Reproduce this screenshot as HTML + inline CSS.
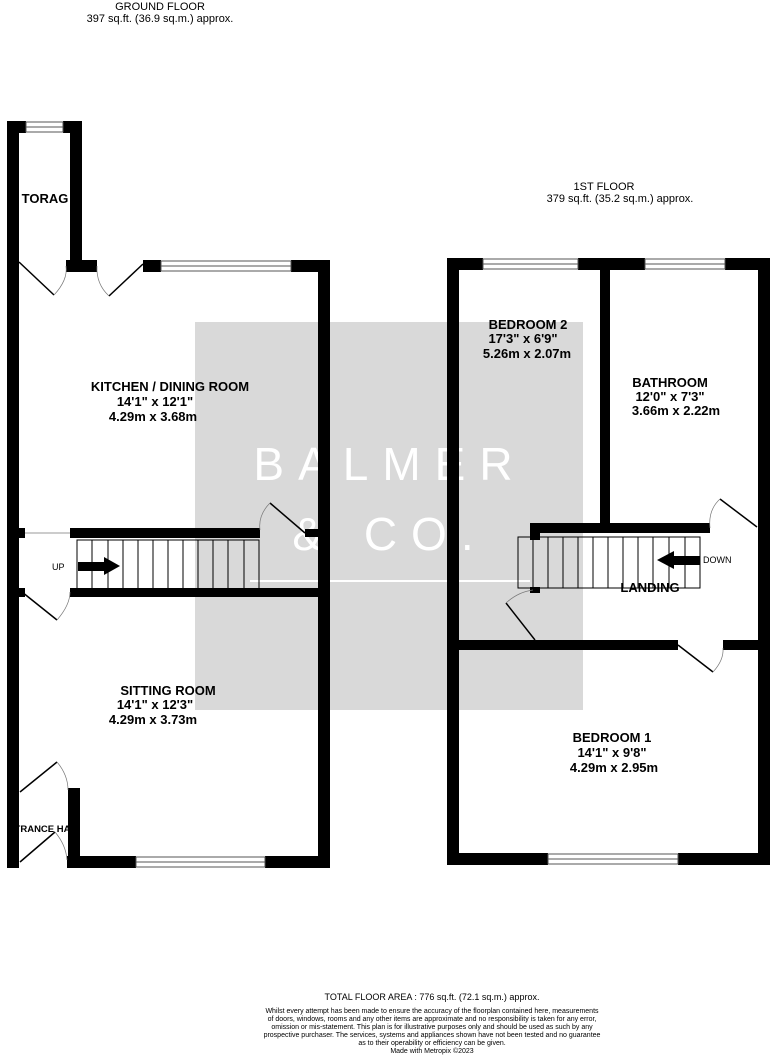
<!DOCTYPE html>
<html><head><meta charset="utf-8"><style>
body{margin:0;background:#fff;}
svg{display:block;font-family:"Liberation Sans",Arial,sans-serif;}
.b{font-weight:bold;font-size:13px;white-space:pre;}
</style></head><body>
<svg width="776" height="1056" viewBox="0 0 776 1056">
<rect width="776" height="1056" fill="#fff"/>
<rect x="195" y="322" width="388" height="388" fill="#d9d9d9"/>
<text x="390" y="480" fill="#fff" font-size="46" text-anchor="middle" letter-spacing="14">BALMER</text>
<text x="390" y="550" fill="#fff" font-size="46" text-anchor="middle" letter-spacing="14">&amp; CO.</text>
<rect x="250" y="580" width="280" height="2" fill="#fff"/>

<text x="160" y="10" font-size="11" text-anchor="middle">GROUND FLOOR</text>
<text x="160" y="22" font-size="11" text-anchor="middle">397 sq.ft. (36.9 sq.m.) approx.</text>
<text x="604" y="190" font-size="11" text-anchor="middle">1ST FLOOR</text>
<text x="620" y="202" font-size="11" text-anchor="middle">379 sq.ft. (35.2 sq.m.) approx.</text>

<g fill="#000">
<rect x="7" y="121" width="12" height="747"/>
<rect x="7" y="121" width="19" height="12"/>
<rect x="63" y="121" width="19" height="12"/>
<rect x="70" y="121" width="12" height="150"/>
<rect x="66" y="260" width="31" height="12"/>
<rect x="143" y="260" width="18" height="12"/>
<rect x="291" y="260" width="39" height="12"/>
<rect x="318" y="260" width="12" height="608"/>
<rect x="70" y="528" width="190" height="10"/>
<rect x="19" y="528" width="6" height="10"/>
<rect x="70" y="588" width="248" height="9"/>
<rect x="19" y="588" width="6" height="9"/>
<rect x="305" y="529" width="13" height="8"/>
<rect x="68" y="788" width="12" height="72"/>
<rect x="67" y="856" width="69" height="12"/>
<rect x="265" y="856" width="65" height="12"/>
<rect x="447" y="258" width="12" height="607"/>
<rect x="447" y="258" width="36" height="12"/>
<rect x="578" y="258" width="67" height="12"/>
<rect x="725" y="258" width="45" height="12"/>
<rect x="758" y="258" width="12" height="607"/>
<rect x="447" y="853" width="101" height="12"/>
<rect x="678" y="853" width="92" height="12"/>
<rect x="600" y="270" width="10" height="260"/>
<rect x="530" y="523" width="180" height="10"/>
<rect x="530" y="523" width="10" height="17"/>
<rect x="530" y="587" width="10" height="6"/>
<rect x="459" y="640" width="219" height="10"/>
<rect x="723" y="640" width="35" height="10"/>
</g>
<g fill="#fff" stroke="#555" stroke-width="1">
<rect x="26" y="122" width="37" height="10"/>
<rect x="161" y="261" width="130" height="10"/>
<rect x="136" y="857" width="129" height="10"/>
<rect x="483" y="259" width="95" height="10"/>
<rect x="645" y="259" width="80" height="10"/>
<rect x="548" y="854" width="130" height="10"/>
</g>
<g stroke="#555" stroke-width="1">
<line x1="26" y1="127" x2="63" y2="127"/><line x1="161" y1="266" x2="291" y2="266"/>
<line x1="136" y1="862" x2="265" y2="862"/><line x1="483" y1="264" x2="578" y2="264"/>
<line x1="645" y1="264" x2="725" y2="264"/><line x1="548" y1="859" x2="678" y2="859"/>
</g>
<g stroke="#000" stroke-width="1.5" fill="none">
<line x1="19" y1="262" x2="54" y2="295"/>
<line x1="143" y1="264" x2="109" y2="296"/>
<line x1="305" y1="533" x2="270" y2="503"/>
<line x1="22" y1="592" x2="57" y2="620"/>
<line x1="20" y1="792" x2="57" y2="762"/>
<line x1="20" y1="862" x2="55" y2="832"/>
<line x1="757" y1="527" x2="720" y2="499"/>
<line x1="535" y1="640" x2="506" y2="603"/>
<line x1="678" y1="645" x2="713" y2="672"/>
</g>
<g stroke="#777" stroke-width="0.7" fill="none">
<path d="M54 295 Q68 280 66 266"/>
<path d="M109 296 Q96 284 97 266"/>
<path d="M270 503 Q258 515 260 530"/>
<path d="M57 620 Q70 605 70 592"/>
<path d="M57 762 Q68 775 68 790"/>
<path d="M55 832 Q66 845 67 860"/>
<path d="M720 499 Q708 510 710 528"/>
<path d="M506 603 Q518 592 533 590"/>
<path d="M713 672 Q724 660 723 648"/>
<line x1="25" y1="533" x2="70" y2="533"/>
</g>
<g stroke="#000" stroke-width="1" fill="none">
<rect x="77" y="540" width="182" height="50"/>
<line x1="92" y1="540" x2="92" y2="590"/><line x1="108" y1="540" x2="108" y2="590"/>
<line x1="123" y1="540" x2="123" y2="590"/><line x1="138" y1="540" x2="138" y2="590"/>
<line x1="153" y1="540" x2="153" y2="590"/><line x1="168" y1="540" x2="168" y2="590"/>
<line x1="183" y1="540" x2="183" y2="590"/><line x1="198" y1="540" x2="198" y2="590"/>
<line x1="213" y1="540" x2="213" y2="590"/><line x1="228" y1="540" x2="228" y2="590"/>
<line x1="244" y1="540" x2="244" y2="590"/>
<rect x="518" y="537" width="182" height="51"/>
<line x1="533" y1="537" x2="533" y2="588"/><line x1="548" y1="537" x2="548" y2="588"/>
<line x1="563" y1="537" x2="563" y2="588"/><line x1="578" y1="537" x2="578" y2="588"/>
<line x1="593" y1="537" x2="593" y2="588"/><line x1="608" y1="537" x2="608" y2="588"/>
<line x1="623" y1="537" x2="623" y2="588"/><line x1="638" y1="537" x2="638" y2="588"/>
<line x1="653" y1="537" x2="653" y2="588"/><line x1="669" y1="537" x2="669" y2="588"/>
<line x1="685" y1="537" x2="685" y2="588"/>
</g>
<g fill="#000">
<rect x="78" y="562" width="28" height="9"/><polygon points="104,557 120,566 104,575"/>
<rect x="672" y="556" width="28" height="9"/><polygon points="674,551 657,560 674,569"/>
</g>
<text x="52" y="570" font-size="9">UP</text>
<text x="703" y="563" font-size="9">DOWN</text>

<g class="b" text-anchor="middle">
<text x="45" y="203">TORAG</text>
<text x="170" y="391">KITCHEN / DINING ROOM</text>
<text x="155" y="406">14'1"  x 12'1"</text>
<text x="153" y="421">4.29m  x 3.68m</text>
<text x="168" y="695">SITTING ROOM</text>
<text x="155" y="709">14'1"  x 12'3"</text>
<text x="153" y="724">4.29m  x 3.73m</text>
<text x="528" y="329">BEDROOM 2</text>
<text x="523" y="343">17'3"  x 6'9"</text>
<text x="527" y="358">5.26m  x 2.07m</text>
<text x="670" y="387">BATHROOM</text>
<text x="670" y="401">12'0"  x 7'3"</text>
<text x="676" y="415">3.66m  x 2.22m</text>
<text x="650" y="592">LANDING</text>
<text x="612" y="742">BEDROOM 1</text>
<text x="612" y="757">14'1"  x 9'8"</text>
<text x="614" y="772">4.29m  x 2.95m</text>
</g>
<text x="42" y="832" font-size="9.5" font-weight="bold" text-anchor="middle">NTRANCE HAL</text>

<g text-anchor="middle" font-size="7">
<text x="432" y="1000" font-size="9">TOTAL FLOOR AREA : 776 sq.ft. (72.1 sq.m.) approx.</text>
<text x="432" y="1013">Whilst every attempt has been made to ensure the accuracy of the floorplan contained here, measurements</text>
<text x="432" y="1021">of doors, windows, rooms and any other items are approximate and no responsibility is taken for any error,</text>
<text x="432" y="1029">omission or mis-statement. This plan is for illustrative purposes only and should be used as such by any</text>
<text x="432" y="1037">prospective purchaser. The services, systems and appliances shown have not been tested and no guarantee</text>
<text x="432" y="1045">as to their operability or efficiency can be given.</text>
<text x="432" y="1053">Made with Metropix ©2023</text>
</g>
</svg>
</body></html>
